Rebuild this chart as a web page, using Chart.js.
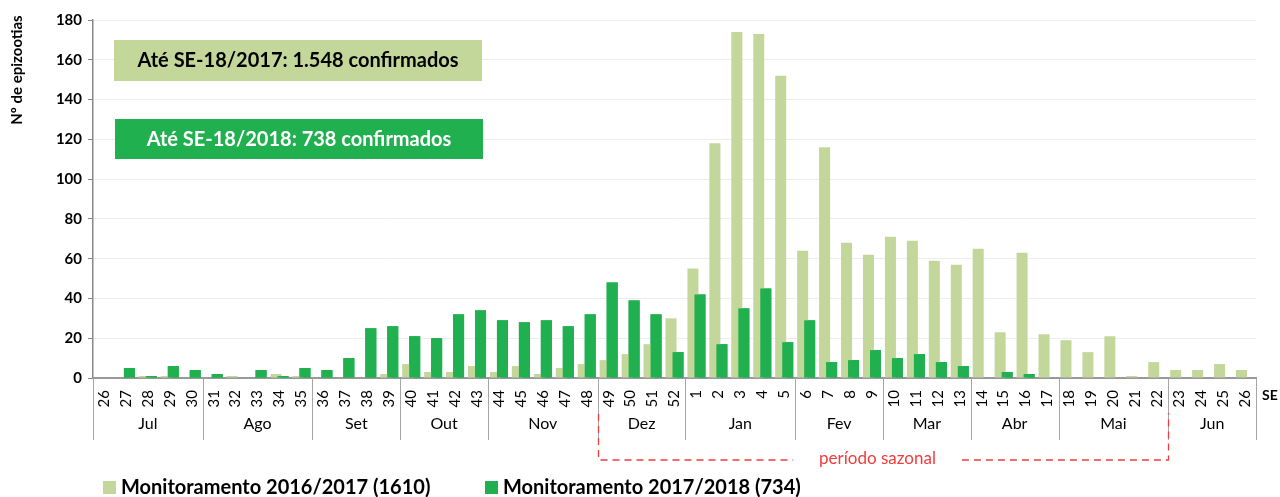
<!DOCTYPE html>
<html>
<head>
<meta charset="utf-8">
<script src="https://cdn.jsdelivr.net/npm/chart.js@4.4.0/dist/chart.umd.min.js"></script>
<style>
  html, body { margin: 0; padding: 0; background: #fff; }
</style>
</head>
<body>
<canvas id="epiChart" width="1280" height="497"></canvas>
<script>
// semanas epidemiológicas, jul/2017 a jun/2018
const weeks = ['26','27','28','29','30','31','32','33','34','35','36','37','38','39','40','41','42','43',
  '44','45','46','47','48','49','50','51','52','1','2','3','4','5','6','7','8','9','10','11','12','13',
  '14','15','16','17','18','19','20','21','22','23','24','25','26'];

const mon1617 = [0,0,1,1,0, 0,1,0,2,1, 0,0,0,2, 7,3,3,6, 3,6,2,5,7, 9,12,17,30,
  55,118,174,173,152, 64,116,68,62, 71,69,59,57, 65,23,63,22, 19,13,21,1,8, 4,4,7,4];
const mon1718 = [0,5,1,6,4, 2,0,4,1,5, 4,10,25,26, 21,20,32,34, 29,28,29,26,32, 48,39,32,13,
  42,17,35,45,18, 29,8,9,14, 10,12,8,6, 0,3,2,0, 0,0,0,0,0, 0,0,0,0];

const months = ['Jul','Ago','Set','Out','Nov','Dez','Jan','Fev','Mar','Abr','Mai','Jun'];
const monthSpans = [5,5,4,4,5,4,5,4,4,4,5,4];

const seriesNames = ['Monitoramento 2016/2017 (1610)', 'Monitoramento 2017/2018 (734)'];
const boxTexts = ['Até SE-18/2017: 1.548 confirmados', 'Até SE-18/2018: 738 confirmados'];

const LIGHT = '#c4d79b';
const DARK = '#20b050';
const FONT = 'Lato, "Liberation Sans", sans-serif';

const overlay = {
  id: 'overlay',
  afterDatasetsDraw(chart) {
    // in the original the 2017/2018 bars sit on top of the 2016/2017 ones
    const { ctx, chartArea: a } = chart;
    ctx.save();
    ctx.beginPath();
    ctx.rect(a.left, a.top, a.right - a.left, a.bottom - a.top);
    ctx.clip();
    chart.getDatasetMeta(1).data.forEach(bar => bar.draw(ctx));
    ctx.restore();
  },
  afterDraw(chart) {
    const { ctx, chartArea: a } = chart;
    const x = chart.scales.x;
    const half = (x.getPixelForValue(1) - x.getPixelForValue(0)) / 2;

    ctx.save();
    // y axis title, placed near the top like the spreadsheet did
    ctx.save();
    ctx.translate(17, 70);
    ctx.rotate(-Math.PI / 2);
    ctx.font = 'bold 15px ' + FONT;
    ctx.fillStyle = '#000';
    ctx.textAlign = 'center';
    ctx.textBaseline = 'middle';
    ctx.fillText('Nº de epizootias', 0, 0);
    ctx.restore();

    // month row
    const edges = [];
    let start = 0;
    ctx.fillStyle = '#000';
    ctx.font = '16px ' + FONT;
    ctx.textAlign = 'center';
    ctx.textBaseline = 'middle';
    monthSpans.forEach((n, i) => {
      const l = x.getPixelForValue(start) - half;
      const r = x.getPixelForValue(start + n - 1) + half;
      edges.push(l);
      ctx.fillText(months[i], (l + r) / 2, 424);
      start += n;
    });
    edges.push(x.getPixelForValue(weeks.length - 1) + half);
    ctx.strokeStyle = '#a6a6a6';
    ctx.lineWidth = 1;
    edges.forEach(e => {
      const px = Math.round(e) + 0.5;
      ctx.beginPath();
      ctx.moveTo(px, a.bottom);
      ctx.lineTo(px, 440);
      ctx.stroke();
    });

    ctx.font = 'bold 14px ' + FONT;
    ctx.textAlign = 'left';
    ctx.fillText('SE', a.right + 6, 395);

    // período sazonal: Dez a Mai
    const bl = Math.round(edges[5]) + 0.5;
    const br = Math.round(edges[11]) + 0.5;
    const by = 460;
    const mid = (bl + br) / 2 - 6;
    ctx.font = '17px ' + FONT;
    const tw = ctx.measureText('período sazonal').width;
    ctx.strokeStyle = '#f03c3c';
    ctx.lineWidth = 1.3;
    ctx.setLineDash([7, 5]);
    ctx.beginPath();
    ctx.moveTo(bl, 414); ctx.lineTo(bl, by); ctx.lineTo(mid - tw / 2 - 26, by);
    ctx.moveTo(mid + tw / 2 + 26, by); ctx.lineTo(br, by); ctx.lineTo(br, 413);
    ctx.stroke();
    ctx.setLineDash([]);
    ctx.fillStyle = '#f03c3c';
    ctx.textAlign = 'center';
    ctx.fillText('período sazonal', mid, by - 1);

    // caixas de totais
    ctx.font = 'bold 20px ' + FONT;
    ctx.fillStyle = LIGHT;
    ctx.fillRect(114, 40, 368, 41);
    ctx.fillStyle = '#000';
    ctx.fillText(boxTexts[0], 298, 61);
    ctx.fillStyle = DARK;
    ctx.fillRect(115, 119, 368, 40);
    ctx.fillStyle = '#fff';
    ctx.fillText(boxTexts[1], 299, 140);

    // legenda
    ctx.textAlign = 'left';
    const lx = [103, 485];
    chart.data.datasets.forEach((ds, i) => {
      ctx.fillStyle = ds.backgroundColor;
      ctx.fillRect(lx[i], 481, 13, 13);
      ctx.fillStyle = '#000';
      ctx.fillText(ds.label, lx[i] + 18, 488);
    });
    ctx.restore();
  }
};

new Chart(document.getElementById('epiChart'), {
  type: 'bar',
  data: {
    labels: weeks,
    datasets: [
      { label: seriesNames[0], data: mon1617, backgroundColor: LIGHT, borderWidth: 0,
        categoryPercentage: 0.64, barPercentage: 1.57 },
      { label: seriesNames[1], data: mon1718, backgroundColor: DARK, borderWidth: 0,
        categoryPercentage: 0.64, barPercentage: 1.57 }
    ]
  },
  options: {
    responsive: false,
    animation: false,
    devicePixelRatio: 1,
    layout: { padding: { top: 20, right: 24, left: 0, bottom: 0 } },
    plugins: { legend: { display: false }, tooltip: { enabled: false } },
    scales: {
      x: {
        grid: { display: false },
        border: { color: '#999', width: 2 },
        ticks: { autoSkip: false, minRotation: 90, maxRotation: 90, padding: 4,
          color: '#000', font: { family: FONT, size: 15 } },
        afterFit(scale) { scale.height = 119; }
      },
      y: {
        min: 0, max: 180,
        ticks: { stepSize: 20, padding: 6, color: '#000', font: { family: FONT, size: 15, weight: 'bold' } },
        grid: { color: '#ededed', tickColor: '#888', tickLength: 5 },
        border: { color: '#888', width: 1.5 },
        afterFit(scale) { scale.width = 93; }
      }
    }
  },
  plugins: [overlay]
});
</script>
</body>
</html>
